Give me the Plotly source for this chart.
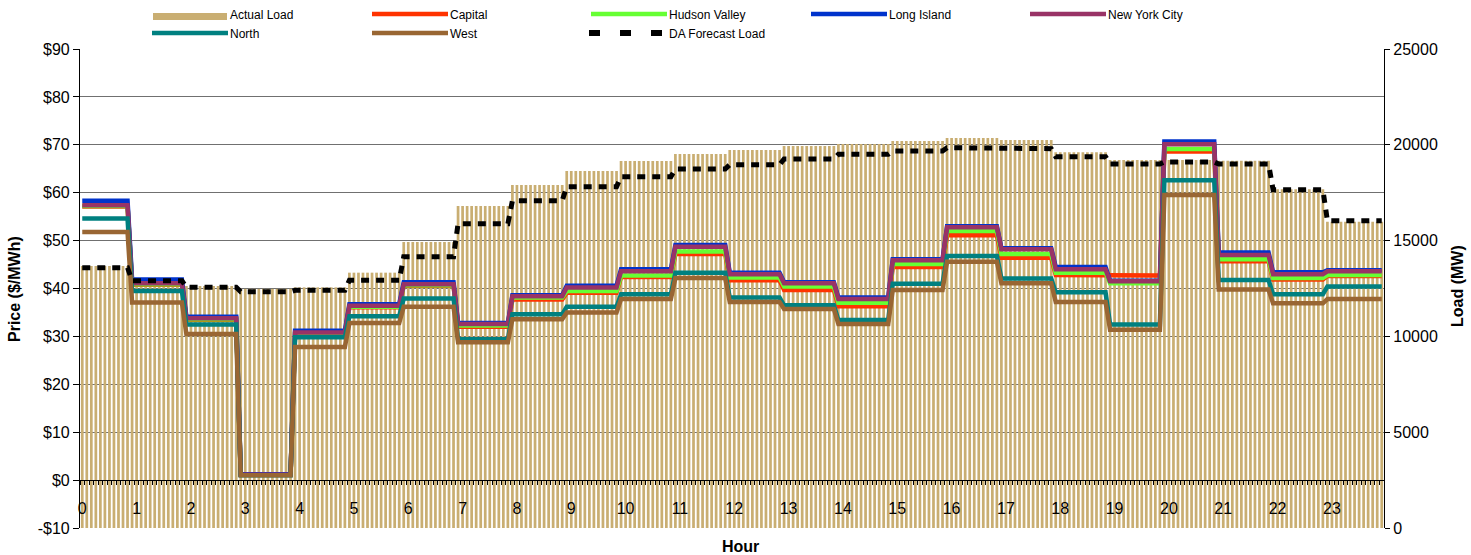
import plotly.graph_objects as go

# Hourly values (hour beginning 0..23)
hours = list(range(24))
hour_labels = [str(h) for h in hours]

actual_load = [13674, 12950, 12630, 12480, 12560, 13326, 14927, 16806, 17902, 18633, 19154, 19520,
               19729, 19937, 20042, 20198, 20355, 20250, 19608, 19207, 19207, 19170, 17678, 15987]
da_forecast_load = [13585, 12907, 12563, 12333, 12406, 12928, 14160, 15882, 17083, 17814, 18336, 18737,
                    18962, 19259, 19504, 19676, 19849, 19797, 19379, 18998, 19102, 18998, 17657, 16040]

capital = [57.1, 40.8, 33.5, 1.1, 30.5, 36.1, 40.6, 32.0, 37.7, 39.1, 42.4, 47.2,
           41.7, 39.7, 36.3, 44.5, 51.1, 46.4, 42.8, 42.7, 68.6, 45.7, 41.9, 42.6]
hudson_valley = [57.2, 40.9, 33.6, 1.1, 30.6, 36.2, 40.7, 32.3, 38.1, 39.5, 42.7, 47.7,
                 42.3, 40.4, 37.0, 45.1, 52.0, 47.2, 43.3, 41.1, 69.1, 46.1, 42.2, 42.8]
long_island = [58.3, 41.9, 34.1, 1.2, 31.2, 36.7, 41.3, 32.8, 38.6, 40.6, 44.0, 49.1,
               43.3, 41.3, 38.1, 46.1, 53.0, 48.4, 44.5, 41.6, 70.7, 47.5, 43.4, 43.8]
new_york_city = [57.4, 41.1, 33.8, 1.1, 30.8, 36.4, 40.9, 32.6, 38.4, 40.2, 43.6, 48.7,
                 43.0, 41.1, 37.8, 45.9, 52.8, 48.2, 44.0, 41.5, 70.1, 47.0, 43.0, 43.6]
north = [54.6, 39.5, 32.5, 1.0, 29.8, 34.2, 37.9, 29.4, 34.6, 36.2, 38.8, 43.3,
         38.1, 36.5, 33.4, 41.0, 46.8, 42.1, 39.2, 32.5, 62.6, 41.8, 38.8, 40.4]
west = [51.8, 37.1, 30.5, 1.0, 27.8, 32.8, 36.2, 28.8, 33.6, 35.0, 37.8, 42.2,
        37.2, 35.7, 32.6, 39.7, 45.6, 41.1, 37.2, 31.4, 59.5, 39.8, 36.9, 37.8]

price_ticks = [-10, 0, 10, 20, 30, 40, 50, 60, 70, 80, 90]
price_tick_text = ["-$10", "$0", "$10", "$20", "$30", "$40", "$50", "$60", "$70", "$80", "$90"]
load_ticks = [0, 5000, 10000, 15000, 20000, 25000]

# 5-minute intervals; each interval is stamped by its ending time
N_INT = 288
x_int = [(i + 0.5) / 12 for i in range(N_INT)]


def per_interval(hourly):
    return [hourly[min(23, (i + 1) // 12)] for i in range(N_INT)]


FONT = "Liberation Sans, Arial, sans-serif"
TAN = "#C9AE72"

zones = [
    ("Capital", capital, "#FF3300"),
    ("Hudson Valley", hudson_valley, "#66FF33"),
    ("Long Island", long_island, "#0033CC"),
    ("New York City", new_york_city, "#993366"),
    ("North", north, "#008080"),
    ("West", west, "#996633"),
]

fig = go.Figure()

fig.add_trace(go.Bar(x=x_int, y=per_interval(actual_load), name="Actual Load",
                     marker=dict(color=TAN, line=dict(width=0)), yaxis="y", showlegend=False))

for name, vals, color in zones:
    fig.add_trace(go.Scatter(x=x_int, y=per_interval(vals), name=name, mode="lines",
                             line=dict(color=color, width=4.5), yaxis="y2", showlegend=False))

fig.add_trace(go.Scatter(x=x_int, y=per_interval(da_forecast_load), name="DA Forecast Load",
                         mode="lines", line=dict(color="black", width=5, dash="8px,7px"),
                         yaxis="y3", showlegend=False))

# Plot-area pixel geometry helpers for placing legend/titles
L, R, T, B = 80, 1384, 49, 528


def px_x(p):
    return (p - L) / (R - L)


def px_y(p):
    return (B - p) / (B - T)


shapes = []
annotations = []

# Legend (two rows, fixed columns)
legend_items = [("Actual Load", TAN, "rect")] + [(n, c, "line") for n, _, c in zones[:4]] + \
               [(n, c, "line") for n, _, c in zones[4:]] + [("DA Forecast Load", "black", "dash")]
col_x = [151, 371, 590, 810, 1029]
row_y = [15, 34]
for k, (name, color, kind) in enumerate(legend_items):
    r, c = divmod(k, 5)
    x0 = col_x[c]
    yc = row_y[r]
    if kind == "rect":
        shapes.append(dict(type="rect", xref="paper", yref="paper",
                           x0=px_x(x0 + 2), x1=px_x(x0 + 76), y0=px_y(yc + 5), y1=px_y(yc - 2),
                           fillcolor=color, line=dict(width=0)))
    elif kind == "line":
        shapes.append(dict(type="line", xref="paper", yref="paper",
                           x0=px_x(x0 + 1), x1=px_x(x0 + 77), y0=px_y(yc - 1), y1=px_y(yc - 1),
                           line=dict(color=color, width=4.5)))
    else:
        shapes.append(dict(type="line", xref="paper", yref="paper",
                           x0=px_x(x0 - 1), x1=px_x(x0 + 72), y0=px_y(yc - 1), y1=px_y(yc - 1),
                           line=dict(color=color, width=6, dash="11px,20px")))
    annotations.append(dict(text=name, xref="paper", yref="paper", x=px_x(x0 + 77), y=px_y(yc),
                            xanchor="left", yanchor="middle", showarrow=False,
                            font=dict(family=FONT, size=12, color="black")))

# Axis titles
annotations.append(dict(text="<b>Price ($/MWh)</b>", xref="paper", yref="paper",
                        x=px_x(14), y=px_y(289), textangle=-90, showarrow=False,
                        xanchor="center", yanchor="middle", font=dict(family=FONT, size=16, color="black")))
annotations.append(dict(text="<b>Load (MW)</b>", xref="paper", yref="paper",
                        x=px_x(1457), y=px_y(286), textangle=-90, showarrow=False,
                        xanchor="center", yanchor="middle", font=dict(family=FONT, size=16, color="black")))
annotations.append(dict(text="<b>Hour</b>", xref="paper", yref="paper",
                        x=px_x(740), y=px_y(546), showarrow=False,
                        xanchor="center", yanchor="middle", font=dict(family=FONT, size=16, color="black")))

fig.update_layout(
    width=1471, height=555,
    margin=dict(l=L, r=1471 - R, t=T, b=555 - B),
    paper_bgcolor="white", plot_bgcolor="white",
    bargap=0.4,
    font=dict(family=FONT, size=16, color="black"),
    shapes=shapes, annotations=annotations,
    xaxis=dict(
        range=[0, 24], anchor="free", position=0.1,
        tickmode="array", tickvals=[h + 1 / 24 for h in hours], ticktext=hour_labels,
        ticks="", showgrid=False, zeroline=False,
        showline=True, linecolor="black", linewidth=1.2,
        ticklabelstandoff=14,
        tickfont=dict(family=FONT, size=16),
        minor=dict(tickmode="linear", tick0=0, dtick=1 / 12, ticks="outside",
                   ticklen=4, tickcolor="black", tickwidth=1, showgrid=False),
    ),
    yaxis=dict(
        range=[0, 25000], side="right", anchor="x",
        tickmode="array", tickvals=load_ticks, tickformat="d",
        ticks="outside", ticklen=5, tickcolor="black",
        showgrid=False, zeroline=False,
        showline=True, linecolor="black", linewidth=1.2,
        tickfont=dict(family=FONT, size=16),
    ),
    yaxis2=dict(
        range=[-10, 90], side="left", overlaying="y", anchor="x",
        tickmode="array", tickvals=price_ticks, ticktext=price_tick_text,
        ticks="outside", ticklen=6, tickcolor="black",
        showgrid=True, gridcolor="#707070", gridwidth=1, zeroline=False,
        showline=True, linecolor="black", linewidth=1.2,
        tickfont=dict(family=FONT, size=16),
    ),
    yaxis3=dict(range=[0, 25000], overlaying="y", anchor="x", visible=False),
)

fig.write_html("out.html")
